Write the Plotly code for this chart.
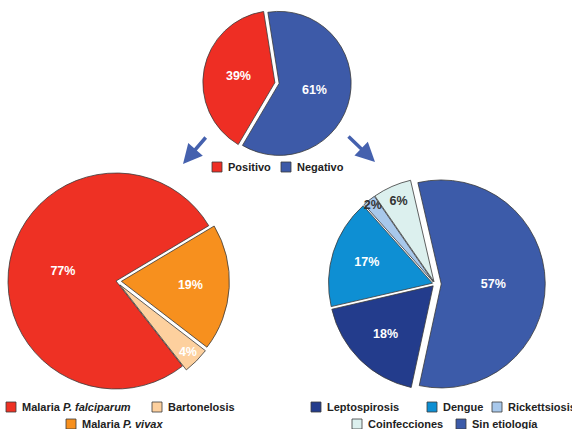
import plotly.graph_objects as go

W, H = 572, 429

# ---- data ----
top_labels = ["Negativo", "Positivo"]
top_values = [61, 39]
top_colors = ["#3D5AA8", "#EE2E24"]

left_labels = ["Malaria P. falciparum", "Malaria P. vivax", "Bartonelosis"]
left_values = [77, 19, 4]
left_colors = ["#EE3124", "#F7901E", "#FDD09E"]

right_labels = ["Sin etiología", "Leptospirosis", "Dengue", "Rickettsiosis", "Coinfecciones"]
right_values = [57, 18, 17, 2, 6]
right_colors = ["#3C5BA9", "#233C8C", "#0E8FD3", "#A8C8EB", "#DCF0EE"]

# legend order as displayed
top_legend = ["Positivo", "Negativo"]
left_legend = ["Malaria P. falciparum", "Bartonelosis", "Malaria P. vivax"]
right_legend = ["Leptospirosis", "Dengue", "Rickettsiosis", "Coinfecciones", "Sin etiología"]

FONT = "Liberation Sans, Arial, sans-serif"


def dom(cx, cy, half):
    return dict(x=[(cx - half) / W, (cx + half) / W],
                y=[1 - (cy + half) / H, 1 - (cy - half) / H])


fig = go.Figure()

line = dict(color="#3a3a3a", width=0.8)

fig.add_trace(go.Pie(
    labels=top_labels, values=top_values, sort=False, direction="clockwise",
    rotation=-9, pull=[0.03, 0.03],
    marker=dict(colors=top_colors, line=line),
    texttemplate="<b>%{value}%</b>", textposition="inside",
    insidetextorientation="horizontal",
    insidetextfont=dict(family=FONT, size=12.5, color="white"),
    domain=dom(277, 83, 72 * 1.03), showlegend=False, hoverinfo="label+percent"))

fig.add_trace(go.Pie(
    labels=left_labels, values=left_values, sort=False, direction="clockwise",
    rotation=142, pull=[0, 0.05, 0.05],
    marker=dict(colors=left_colors, line=line),
    texttemplate="<b>%{value}%</b>", textposition="inside",
    insidetextorientation="horizontal",
    insidetextfont=dict(family=FONT, size=12.5, color="white"),
    domain=dom(116, 281, 108 * 1.05), showlegend=False, hoverinfo="label+percent"))

fig.add_trace(go.Pie(
    labels=right_labels, values=right_values, sort=False, direction="clockwise",
    rotation=-13, pull=[0.06, 0.025, 0.025, 0.025, 0.025],
    marker=dict(colors=right_colors, line=line),
    texttemplate="<b>%{value}%</b>", textposition="inside",
    insidetextorientation="horizontal",
    insidetextfont=dict(family=FONT, size=12.5,
                        color=["white", "white", "white", "#333333", "#333333"]),
    domain=dom(435, 284, 104 * 1.06), showlegend=False, hoverinfo="label+percent"))


def rich(label):
    if label.startswith("Malaria "):
        return "<b>Malaria <i>" + label[len("Malaria "):] + "</i></b>"
    return "<b>" + label + "</b>"


shapes = []
annots = []


def add_legend(labels, colors_map, positions):
    for lab, (px, py) in zip(labels, positions):
        shapes.append(dict(type="rect", xref="paper", yref="paper",
                           x0=px / W, x1=(px + 10) / W,
                           y0=1 - (py + 5) / H, y1=1 - (py - 5) / H,
                           fillcolor=colors_map[lab], line=dict(color="#3a3a3a", width=0.8)))
        annots.append(dict(xref="paper", yref="paper", x=(px + 14) / W, y=1 - py / H,
                           xanchor="left", yanchor="middle", showarrow=False,
                           text=rich(lab), font=dict(family=FONT, size=11, color="#222222")))


add_legend(top_legend, dict(zip(top_labels, top_colors)),
           [(212, 167), (281, 167)])
add_legend(left_legend, dict(zip(left_labels, left_colors)),
           [(6, 407), (152, 407), (66, 424)])
add_legend(right_legend, dict(zip(right_labels, right_colors)),
           [(311, 407), (427, 407), (492, 407), (352, 424), (456, 424)])

arrow_color = "#4561AE"
for hx, hy, tx, ty in [(183, 164, 207, 136), (375, 162, 347, 135)]:
    annots.append(dict(xref="paper", yref="paper", x=hx / W, y=1 - hy / H,
                       ax=tx - hx, ay=ty - hy, showarrow=True, arrowhead=2,
                       arrowsize=1.1, arrowwidth=3.5, arrowcolor=arrow_color, text=""))

fig.update_layout(width=W, height=429, margin=dict(l=0, r=0, t=0, b=0),
                  paper_bgcolor="white", plot_bgcolor="white",
                  uniformtext=dict(mode="show", minsize=12.5),
                  showlegend=False, shapes=shapes, annotations=annots)

fig.write_html("out.html")
